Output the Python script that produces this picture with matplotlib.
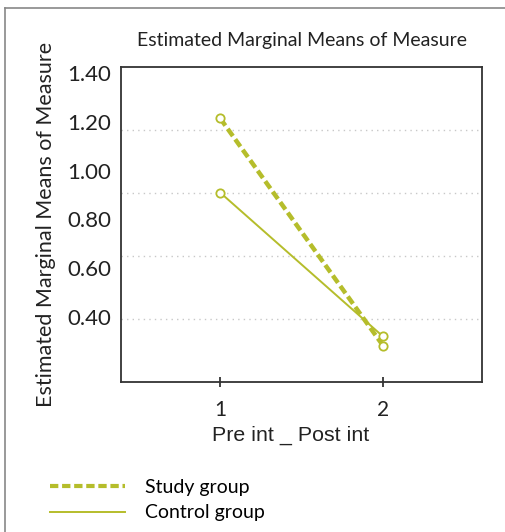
import numpy as np
import matplotlib
matplotlib.use("Agg")
import matplotlib.pyplot as plt
from matplotlib.lines import Line2D

# data
time_points = [1, 2]
study_group = [1.237, 0.515]
control_group = [1.001, 0.544]
grid_levels = [0.6, 0.8, 1.0, 1.2]
ytick_labels = ["1.40", "1.20", "1.00", "0.80", "0.60", "0.40"]
# the labels in the source are squeezed, not aligned with the grid
ytick_pos = np.linspace(1.381, 0.606, 6)

color = "#b5bd2b"
font = ["Lato", "DejaVu Sans"]
dash = (0, (2.0, 0.9))

fig = plt.figure(figsize=(5.06, 5.32), dpi=100)
ax = fig.add_axes([0.239, 0.2825, 0.714, 0.592])

for g in grid_levels:
    ax.axhline(g, color="#c8c8c8", lw=1.0, ls=(0, (1, 3)), zorder=0)

ax.plot(time_points, study_group, color=color, lw=3.2, ls=dash,
        marker="o", mfc="white", mec=color, ms=6, mew=1.3, label="Study group")
ax.plot(time_points, control_group, color=color, lw=1.4,
        marker="o", mfc="white", mec=color, ms=6, mew=1.3, label="Control group")

ax.set_xlim(0.39, 2.61)
ax.set_ylim(0.4, 1.401)
ax.set_xticks(time_points)
ax.set_xticklabels([str(t) for t in time_points], fontsize=15, family=font)
ax.set_yticks(ytick_pos)
ax.set_yticklabels(ytick_labels, fontsize=16, family=font)
ax.tick_params(axis="y", length=0, pad=7, colors="#222222")
ax.tick_params(axis="x", direction="inout", length=7, width=1.2, pad=10, colors="#222222")
for s in ax.spines.values():
    s.set_linewidth(1.3)
    s.set_color("#333333")

ax.set_xlabel("Pre int _ Post int", fontsize=15.4, family="Liberation Sans",
              color="#222222")
ax.xaxis.set_label_coords(0.471, -0.14)
ax.set_ylabel("Estimated Marginal Means of Measure", fontsize=15.5, family=font,
              color="#222222", labelpad=8)
ax.set_title("Estimated Marginal Means of Measure", fontsize=14, family=font,
             color="#222222", pad=15)

handles = [Line2D([], [], color=color, lw=3.0, ls=dash),
           Line2D([], [], color=color, lw=1.4)]
fig.legend(handles, ["Study group", "Control group"], loc="lower left",
           bbox_to_anchor=(0.065, -0.013), frameon=False, handlelength=3.85,
           handletextpad=1.0, labelspacing=0.45, prop={"family": font, "size": 14})

# outer frame (top and left edges only)
fig.add_artist(Line2D([0.01, 0.01], [0, 0.985], color="#888888", lw=1.2))
fig.add_artist(Line2D([0.01, 1.0], [0.985, 0.985], color="#888888", lw=1.2))

fig.savefig("out.png", dpi=100)
